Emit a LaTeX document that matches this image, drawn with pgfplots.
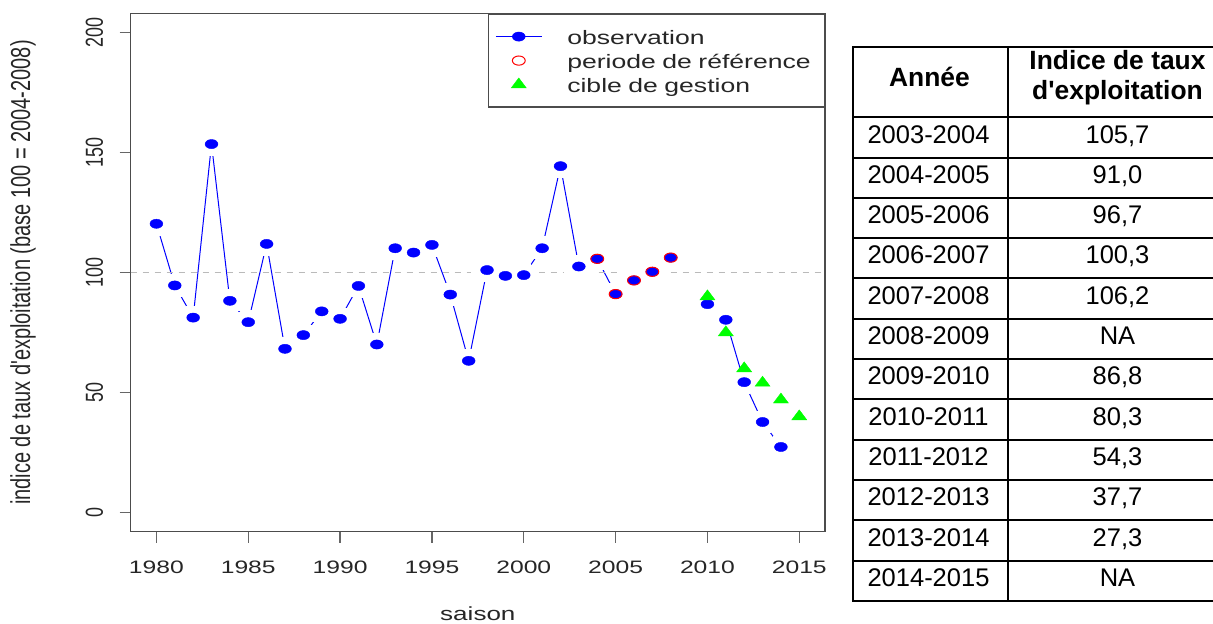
\documentclass[border=0pt]{standalone}
\usepackage{pgfplots}
\usepackage{pgfplotstable}
\pgfplotsset{compat=1.18}
\usepackage{fontspec}
\setmainfont{Liberation Sans}[Ligatures=TeXOff]
\newfontfamily\plotfont{Liberation Sans}[FakeStretch=1.37,Ligatures=TeXOff]
\newfontfamily\rotfont{Liberation Sans}[FakeStretch=0.73,Ligatures=TeXOff]

\pgfplotstableread{
year obs
1980 120.3
1981 94.6
1982 81.2
1983 153.5
1984 88.2
1985 79.3
1986 111.9
1987 68.2
1988 73.9
1989 83.8
1990 80.7
1991 94.4
1992 70.0
1993 110.1
1994 108.3
1995 111.5
1996 90.8
1997 63.2
1998 101.0
1999 98.6
2000 98.9
2001 110.1
2002 144.3
2003 102.5
2004 105.7
2005 91.0
2006 96.7
2007 100.3
2008 106.2
2009 nan
2010 86.8
2011 80.3
2012 54.3
2013 37.7
2014 27.3
}\obsdata

\pgfplotstableread{
year ref
2004 105.7
2005 91.0
2006 96.7
2007 100.3
2008 106.2
}\refdata

\pgfplotstableread{
year target
2010 90
2011 75
2012 60
2013 54
2014 47
2015 40
}\targetdata

\newcommand\tabfont{\fontsize{12.75}{15}\selectfont}
\newcommand\trow[3]{%
  \node[anchor=base, inner sep=0pt, font=\tabfont] at (928.5,{506.7-40.3*#1-25.8}) {#2};
  \node[anchor=base, inner sep=0pt, font=\tabfont] at (1117.5,{506.7-40.3*#1-25.8}) {#3};}

\begin{document}
\begin{tikzpicture}
\useasboundingbox (0pt,0pt) rectangle (606.5pt,312pt);
\begin{axis}[
  at={(65.35pt,46.15pt)}, anchor=south west,
  scale only axis, width=347.15pt, height=259.2pt,
  xmin=1978.6, xmax=2016.4, ymin=-8, ymax=208,
  xtick={1980,1985,...,2015}, ytick={0,50,...,200},
  tick pos=left, tick align=outside, major tick length=5.6pt,
  axis line style={black!70, line width=0.7pt},
  tick style={black!60, line width=0.6pt},
  /pgf/number format/1000 sep={},
  /pgf/number format/assume math mode=true,
  xticklabel style={font=\plotfont\fontsize{9}{10}\selectfont, text=black!85, anchor=base, yshift=-15.4pt},
  yticklabel style={font=\rotfont\fontsize{12.3}{13}\selectfont, text=black!85, xshift=-8.3pt, rotate=90, anchor=base},
  xlabel={saison},
  ylabel={indice de taux d'exploitation (base 100 = 2004-2008)},
  every axis x label/.style={at={(rel axis cs:0.5,0)}, anchor=base, yshift=-44.6pt, font=\plotfont\fontsize{9.5}{11}\selectfont, text=black!85},
  every axis y label/.style={at={(rel axis cs:-0.155,0.5)}, rotate=90, anchor=center, font=\rotfont\fontsize{13.7}{15}\selectfont, text=black!85},
  legend style={at={(rel axis cs:1,1)}, anchor=north east, draw=black!70, line width=0.7pt, fill=white,
    inner xsep=3.5pt, inner ysep=6.8pt, row sep=3pt, column sep=12.5pt,
    font=\plotfont\fontsize{9.7}{11}\selectfont, text=black!85,
    nodes={inner sep=0pt, text height=8.5pt, text depth=0.5pt, text width=125pt, align=left}},
  legend cell align=left,
  legend image code/.code={\draw[mark repeat=2,mark phase=2,#1] plot coordinates {(0pt,0pt) (11.5pt,0pt) (23pt,0pt)};},
]
% observation line with gaps (type b)
\addplot[blue, line width=0.5pt, unbounded coords=jump, forget plot] table[x=year,y=obs] {\obsdata};
\addplot[white, only marks, mark=*, mark size=5.8pt, mark options={fill=white, draw=white, line width=0pt, xscale=1.37}, forget plot] table[x=year,y=obs] {\obsdata};
\addplot[blue, only marks, mark=*, mark size=2.3pt, mark options={fill=blue, draw=blue, line width=0.2pt, xscale=1.4}, forget plot] table[x=year,y=obs] {\obsdata};
\addplot[red, only marks, mark=o, mark size=2.3pt, mark options={draw=red, line width=0.5pt, xscale=1.4}, forget plot] table[x=year,y=ref] {\refdata};
\addplot[black!27, line width=0.5pt, dash pattern=on 3pt off 3pt, forget plot] coordinates {(1978.6,100) (2016.4,100)};
\addplot[green, only marks, mark=triangle*, mark size=3.33pt, mark options={fill=green, draw=green, line width=0.2pt, xscale=1.3}, forget plot] table[x=year,y=target] {\targetdata};
\addlegendimage{blue, line width=0.5pt, mark=*, mark size=2.3pt, mark options={fill=blue, draw=blue, line width=0.2pt, xscale=1.4}}
\addlegendentry{observation}
\addlegendimage{red, only marks, mark=o, mark size=2.3pt, mark options={draw=red, line width=0.5pt, xscale=1.4}}
\addlegendentry{periode de référence}
\addlegendimage{green, only marks, mark=triangle*, mark size=3.33pt, mark options={fill=green, draw=green, line width=0.2pt, xscale=1.3}}
\addlegendentry{cible de gestion}
\end{axis}
% table
\begin{scope}[x=0.5pt, y=0.5pt]
\begin{scope}[line width=1pt, line cap=rect]
\draw (853.3,577.3) -- (1213,577.3);
\foreach \k in {0,...,12} {\draw (853.3,{506.7-40.3*\k}) -- (1213,{506.7-40.3*\k});}
\draw (853.3,577.3) -- (853.3,23.1);
\draw (1008.3,577.3) -- (1008.3,23.1);
\end{scope}
\node[anchor=base, inner sep=0pt, font=\bfseries\fontsize{13.2}{15}\selectfont] at (929.5,537.3) {Année};
\node[anchor=base, inner sep=0pt, font=\bfseries\fontsize{13.2}{15}\selectfont] at (1117.5,554) {Indice de taux};
\node[anchor=base, inner sep=0pt, font=\bfseries\fontsize{13.2}{15}\selectfont] at (1117.5,524) {d'exploitation};
\trow{0}{2003-2004}{105,7}
\trow{1}{2004-2005}{91,0}
\trow{2}{2005-2006}{96,7}
\trow{3}{2006-2007}{100,3}
\trow{4}{2007-2008}{106,2}
\trow{5}{2008-2009}{NA}
\trow{6}{2009-2010}{86,8}
\trow{7}{2010-2011}{80,3}
\trow{8}{2011-2012}{54,3}
\trow{9}{2012-2013}{37,7}
\trow{10}{2013-2014}{27,3}
\trow{11}{2014-2015}{NA}
\end{scope}
\end{tikzpicture}
\end{document}
